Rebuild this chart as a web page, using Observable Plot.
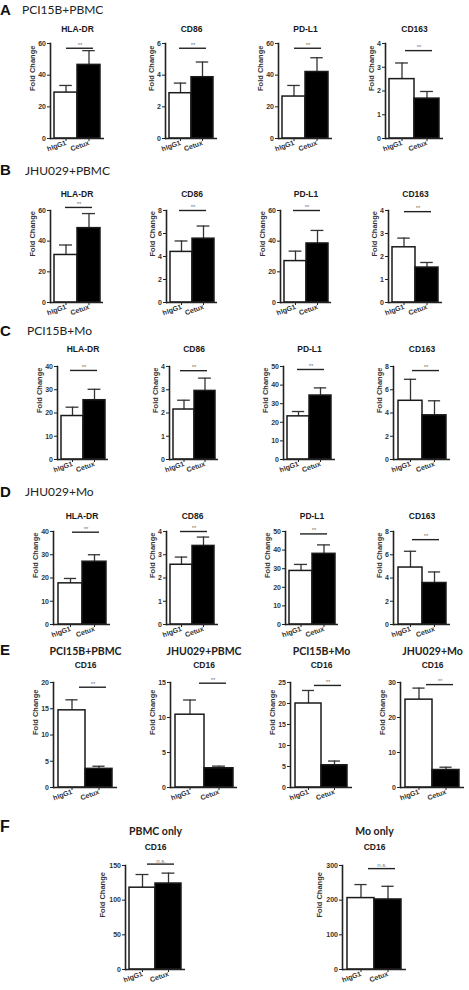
<!DOCTYPE html>
<html><head><meta charset="utf-8">
<script src="https://cdn.jsdelivr.net/npm/d3@7"></script>
<script src="https://cdn.jsdelivr.net/npm/@observablehq/plot@0.6"></script>
<style>
body{margin:0;background:#fff;}
#root{position:relative;width:469px;height:990px;overflow:hidden;}
#root svg{position:absolute;}
</style></head><body><div id="root"></div>
<script>
// ---------- data ----------
const groups = ["hIgG1", "Cetux"];
const markers = ["HLA-DR", "CD86", "PD-L1", "CD163"];
const rowLetters = ["A", "B", "C", "D"];
const rowNames = ["PCI15B+PBMC", "JHU029+PBMC", "PCI15B+Mo", "JHU029+Mo"];

// Row A: PCI15B+PBMC
const meanA = [[29, 46.5], [2.86, 3.87], [26.5, 42], [2.5, 1.68]];
const semA  = [[4.5, 9], [0.64, 0.96], [7, 9], [0.68, 0.3]];
const sigA  = [57, 5.7, 57, 3.7];
const ticksA = [[0, 20, 40, 60], [0, 2, 4, 6], [0, 20, 40, 60], [0, 1, 2, 3, 4]];
// Row B: JHU029+PBMC
const meanB = [[31, 48.5], [4.4, 5.55], [27, 38.5], [2.4, 1.52]];
const semB  = [[6.5, 9.5], [0.95, 1.1], [6.5, 8.5], [0.4, 0.22]];
const sigB  = [62, 8, 60, 3.95];
const ticksB = [[0, 20, 40, 60], [0, 2, 4, 6, 8], [0, 20, 40, 60], [0, 1, 2, 3, 4]];
// Row C: PCI15B+Mo
const meanC = [[18.7, 25.5], [2.15, 2.95], [23.2, 34.4], [5.05, 3.8]];
const semC  = [[3.8, 4.7], [0.4, 0.55], [2.6, 4.1], [1.85, 1.25]];
const sigC  = [38.3, 3.82, 48.4, 7.65];
const ticksC = [[0, 10, 20, 30, 40], [0, 1, 2, 3, 4], [0, 10, 20, 30, 40, 50], [0, 2, 4, 6, 8]];
// Row D: JHU029+Mo
const meanD = [[17.7, 27], [2.57, 3.38], [28.8, 38], [4.9, 3.57]];
const semD  = [[2.1, 3], [0.33, 0.38], [3.5, 4.8], [1.4, 0.95]];
const sigD  = [39.7, 4.0, 48.7, 7.3];
const ticksD = [[0, 10, 20, 30, 40], [0, 1, 2, 3, 4], [0, 10, 20, 30, 40, 50], [0, 2, 4, 6, 8]];

// Row E: CD16 per co-culture
const namesE = ["PCI15B+PBMC", "JHU029+PBMC", "PCI15B+Mo", "JHU029+Mo"];
const markerE = "CD16";
const meanE = [[14.7, 3.55], [10.4, 2.75], [20, 5.3], [25.1, 5.0]];
const semE  = [[2, 0.5], [2.1, 0.3], [3.1, 1.0], [3.3, 0.8]];
const sigE  = [19.1, 14.9, 24.3, 29.4];
const ticksE = [[0, 5, 10, 15, 20], [0, 5, 10, 15], [0, 5, 10, 15, 20, 25], [0, 10, 20, 30]];

// Row F: CD16 effector cells alone
const namesF = ["PBMC only", "Mo only"];
const markerF = "CD16";
const meanF = [[118, 124], [206, 202]];
const semF  = [[19, 15], [39, 38]];
const sigF  = [152, 291];
const ticksF = [[0, 50, 100, 150], [0, 100, 200, 300]];

const sigTextAD = "**", sigTextF = "n.s.";

// ---------- layout ----------
const layoutAD = [
  {axes: [50, 165, 278, 385], w: [54, 52, 54, 58], top: 43, zero: 138, titleDy: -18},
  {axes: [50, 166, 280, 388], w: [53, 51, 51, 54], top: 210, zero: 302, titleDy: -20},
  {axes: [57, 169, 283, 393], w: [51, 49, 52, 57], top: 366, zero: 459, titleDy: -21},
  {axes: [53, 166, 285, 393], w: [57, 52, 53, 57], top: 531, zero: 624, titleDy: -19}
];
const layoutE = {axes: [53, 170, 290, 400], w: [64, 67, 62, 64], top: 682, zero: 787, titleDy: -21, subDy: -35};
const layoutF = {axes: [125, 342], w: [60, 64], top: 865, zero: 969, titleDy: -22, subDy: -38};

const root = document.getElementById("root");
const FONT = "Liberation Sans, Arial, sans-serif";
const FONT2 = "Lato, Open Sans, sans-serif";

// header svg (panel letters and row names)
const hdr = d3.create("svg").attr("width", 469).attr("height", 990).style("left", "0px").style("top", "0px");
const letters = [
  {t: "A", y: 15, s: 15}, {t: "B", y: 175, s: 15}, {t: "C", y: 336, s: 15},
  {t: "D", y: 497, s: 15}, {t: "E", y: 655, s: 15}, {t: "F", y: 832, s: 16}
];
letters.forEach(l => hdr.append("text").attr("x", 0).attr("y", l.y).attr("font-family", FONT)
  .attr("font-weight", "bold").attr("font-size", l.s).attr("fill", "#111").text(l.t));
const nameXY = [[22, 14], [25, 175], [27, 335], [25, 496]];
rowNames.forEach((n, i) => hdr.append("text").attr("x", nameXY[i][0]).attr("y", nameXY[i][1])
  .attr("font-family", FONT2).attr("font-size", 12).attr("fill", "#222").text(n));
root.appendChild(hdr.node());

function addChart(o) {
  const mL = 44, mR = 12, mT = 50, mB = 26;
  const data = groups.map((g, i) => ({g, v: o.mean[i], e: o.mean[i] + o.sem[i]}));
  const nch = d3.max(o.ticks, t => String(t).length);
  const foldDx = -(10 + nch * 4.2);
  const band = o.w / 2.3;
  const cap = Math.max(0, (band - 13) / 2);
  const sigR = 11, sigL = Math.max(4, o.w - 11 - 27);
  const marks = [
    Plot.ruleX(data, {x: "g", y1: "v", y2: "e", stroke: "#333", strokeWidth: 1.3}),
    Plot.tickY(data, {x: "g", y: "e", stroke: "#333", strokeWidth: 1.3, insetLeft: cap, insetRight: cap}),
    Plot.barY(data, {x: "g", y: "v", fill: "g", stroke: "#1a1a1a", strokeWidth: 1.5}),
    Plot.ruleY([0], {stroke: "#222", strokeWidth: 1.6}),
    Plot.frame({anchor: "left", stroke: "#222", strokeWidth: 1.6}),
    Plot.axisY({ticks: o.ticks, tickFormat: d => String(d), tickSize: 3, tickPadding: 1.5, label: null,
      fontSize: 7, fontWeight: "bold", fill: "#333"}),
    Plot.axisX({tickSize: 3, tickRotate: -20, tickPadding: 1, label: null, fontSize: 7, fontWeight: "bold", fill: "#333"}),
    Plot.ruleY([o.sig], {insetLeft: sigL, insetRight: sigR, stroke: "#222", strokeWidth: 1.4}),
    Plot.text([{y: o.sig, t: o.sigText}], {y: "y", text: "t", dx: (sigL - sigR) / 2, dy: -3.5,
      fontSize: 6, fill: "#777", fontWeight: "normal"}),
    Plot.text([o.title], {text: d => d, frameAnchor: "top", dy: o.titleDy, fontSize: 8.5,
      fontWeight: "bold", fill: "#1a1a1a"}),
    Plot.text(["Fold Change"], {text: d => d, frameAnchor: "left", rotate: -90, dx: foldDx,
      fontSize: 7.5, fontWeight: "bold", fill: "#333"})
  ];
  if (o.sub) marks.push(Plot.text([o.sub], {text: d => d, frameAnchor: "top", dy: o.subDy,
    fontSize: 10.5, fontWeight: "bold", fontFamily: FONT2, fill: "#222"}));
  const h = o.zero - o.top;
  const svg = Plot.plot({
    width: mL + o.w + mR, height: mT + h + mB,
    marginLeft: mL, marginRight: mR, marginTop: mT, marginBottom: mB,
    x: {domain: groups, paddingInner: 0, paddingOuter: 0.15},
    y: {domain: [0, o.ticks[o.ticks.length - 1]]},
    color: {domain: groups, range: ["#ffffff", "#000000"]},
    style: {fontFamily: FONT, fontSize: "7px", fontWeight: "bold", color: "#222",
      background: "transparent", overflow: "visible"},
    marks
  });
  svg.style.left = (o.x - mL) + "px";
  svg.style.top = (o.top - mT) + "px";
  root.appendChild(svg);
}

const rowsAD = [
  [meanA, semA, sigA, ticksA], [meanB, semB, sigB, ticksB],
  [meanC, semC, sigC, ticksC], [meanD, semD, sigD, ticksD]
];
rowsAD.forEach(([mean, sem, sig, ticks], r) => {
  const L = layoutAD[r];
  markers.forEach((m, j) => addChart({
    x: L.axes[j], w: L.w[j], top: L.top, zero: L.zero, titleDy: L.titleDy,
    title: m, mean: mean[j], sem: sem[j], sig: sig[j], ticks: ticks[j], sigText: sigTextAD
  }));
});
namesE.forEach((n, j) => addChart({
  x: layoutE.axes[j], w: layoutE.w[j], top: layoutE.top, zero: layoutE.zero,
  titleDy: layoutE.titleDy, subDy: layoutE.subDy, title: markerE, sub: n,
  mean: meanE[j], sem: semE[j], sig: sigE[j], ticks: ticksE[j], sigText: sigTextAD
}));
namesF.forEach((n, j) => addChart({
  x: layoutF.axes[j], w: layoutF.w[j], top: layoutF.top, zero: layoutF.zero,
  titleDy: layoutF.titleDy, subDy: layoutF.subDy, title: markerF, sub: n,
  mean: meanF[j], sem: semF[j], sig: sigF[j], ticks: ticksF[j], sigText: sigTextF
}));
</script></body></html>
